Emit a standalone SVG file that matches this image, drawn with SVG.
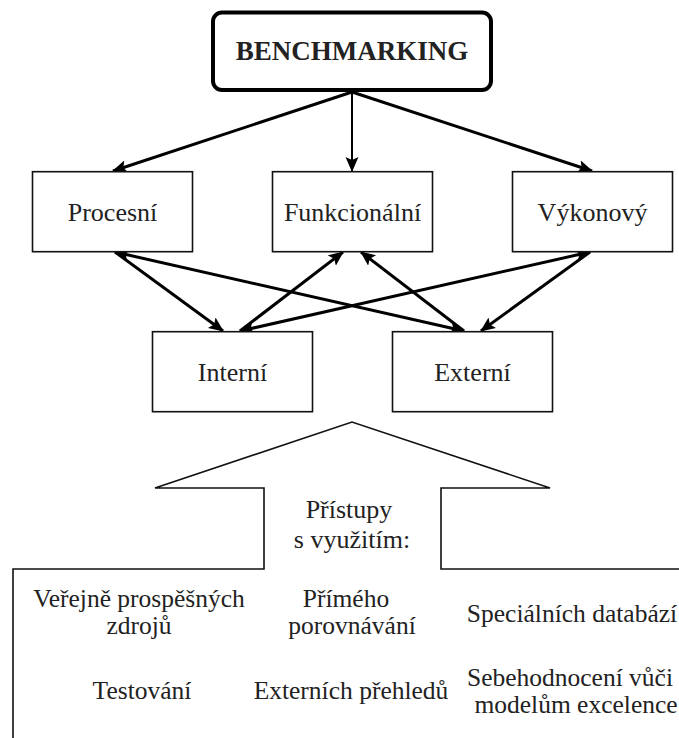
<svg xmlns="http://www.w3.org/2000/svg" width="679" height="738" viewBox="0 0 679 738">
<style>
.box{fill:#fff;stroke:#111;stroke-width:1.6}
.t{font-family:"Liberation Serif","Times New Roman",serif;font-size:26px;fill:#222;text-anchor:middle}
.b{font-family:"Liberation Serif","Times New Roman",serif;font-size:27px;font-weight:bold;fill:#222;text-anchor:middle}
.s{font-family:"Liberation Serif","Times New Roman",serif;font-size:25.5px;fill:#222;text-anchor:middle}
.c{fill:none;stroke:#000;stroke-width:3}
.v{fill:none;stroke:#000;stroke-width:2}
.o{fill:none;stroke:#111;stroke-width:1.6}
</style>
<defs>
<marker id="ah" markerUnits="userSpaceOnUse" markerWidth="16" markerHeight="14" refX="14" refY="6.5" orient="auto-start-reverse" viewBox="0 0 16 14">
<path d="M0,0 L15,6.5 L0,13 L3,6.5 z" fill="#000"/>
</marker>
</defs>
<g id="connectors">
<line class="c" x1="352" y1="92" x2="113" y2="171" marker-end="url(#ah)"/>
<line class="v" x1="352" y1="92" x2="352" y2="171" marker-end="url(#ah)"/>
<line class="c" x1="352" y1="92" x2="592" y2="171" marker-end="url(#ah)"/>
<line class="c" x1="115" y1="252" x2="223" y2="331" marker-end="url(#ah)"/>
<line class="c" x1="115" y1="252" x2="464" y2="331" marker-start="url(#ah)" marker-end="url(#ah)"/>
<line class="c" x1="240" y1="331" x2="343" y2="252" marker-end="url(#ah)"/>
<line class="c" x1="464" y1="331" x2="361" y2="252" marker-end="url(#ah)"/>
<line class="c" x1="590" y1="252" x2="240" y2="331" marker-start="url(#ah)" marker-end="url(#ah)"/>
<line class="c" x1="590" y1="252" x2="481" y2="331" marker-end="url(#ah)"/>
</g>
<g id="benchmarking">
<rect x="213" y="12.5" width="278" height="77.5" rx="9" fill="#fff" stroke="#000" stroke-width="4"/>
<text class="b" x="352" y="60">BENCHMARKING</text>
</g>
<g id="procesni">
<rect class="box" x="32.5" y="171.7" width="160" height="80"/>
<text class="t" x="112.5" y="221">Procesní</text>
</g>
<g id="funkcionalni">
<rect class="box" x="272.5" y="171.7" width="160" height="80"/>
<text class="t" x="352.5" y="221">Funkcionální</text>
</g>
<g id="vykonovy">
<rect class="box" x="512.5" y="171.7" width="160" height="80"/>
<text class="t" x="592.5" y="221">Výkonový</text>
</g>
<g id="interni">
<rect class="box" x="152.5" y="331.7" width="160" height="80"/>
<text class="t" x="232.5" y="381">Interní</text>
</g>
<g id="externi">
<rect class="box" x="392.5" y="331.7" width="160" height="80"/>
<text class="t" x="472.5" y="381">Externí</text>
</g>
<g id="pristupy">
<polyline class="o" points="13,740 13,569 264,569 264,488 155,488 352,422 550,488 441,488 441,569 681,569"/>
<text class="t" x="349" y="518">Přístupy</text>
<text class="t" x="352" y="548">s využitím:</text>
</g>
<g id="approaches">
<text class="s" x="139" y="607">Veřejně prospěšných</text>
<text class="s" x="139" y="634">zdrojů</text>
<text class="s" x="346" y="607">Přímého</text>
<text class="s" x="352" y="634">porovnávání</text>
<text class="s" x="572" y="622">Speciálních databází</text>
<text class="s" x="142" y="699">Testování</text>
<text class="s" x="351" y="699">Externích přehledů</text>
<text class="s" x="570" y="686">Sebehodnocení vůči</text>
<text class="s" x="576" y="713">modelům excelence</text>
</g>
</svg>
